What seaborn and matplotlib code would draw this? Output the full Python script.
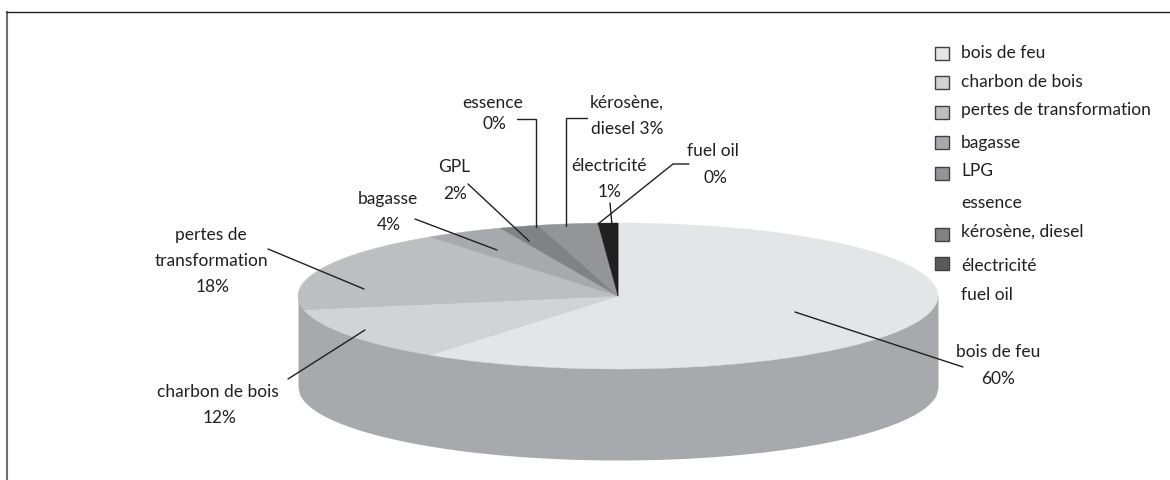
import matplotlib
matplotlib.use("Agg")
import matplotlib.pyplot as plt
from matplotlib.patches import Rectangle
import numpy as np
import seaborn as sns

# Energy shares (percent), clockwise from twelve o'clock
sources = ["bois de feu", "charbon de bois", "pertes de transformation", "bagasse",
           "GPL", "essence", "kérosène, diesel", "électricité", "fuel oil"]
shares = [60, 12, 18, 4, 2, 0, 3, 1, 0]
slice_colors = ["#e4e5e7", "#d1d3d4", "#bcbec0", "#a7a9ac", "#808285",
                "#808285", "#939598", "#231f20", "#000000"]

legend_names = ["bois de feu", "charbon de bois", "pertes de transformation", "bagasse",
                "LPG", "essence", "kérosène, diesel", "électricité", "fuel oil"]
legend_colors = ["#e4e5e7", "#d1d3d4", "#bcbec0", "#a7a9ac", "#939598",
                 None, "#808285", "#58595b", None]
legend_rows = [53, 82, 112, 142, 173, 203, 234, 263, 295]
legend_text_rows = [53, 82, 110, 143, 171, 203, 232, 266, 295]

WALL = "#a7a9ac"
INK = "#231f20"

sns.set_theme(style="white")
plt.rcParams["font.family"] = ["Lato", "DejaVu Sans"]

W, H = 1170, 480
fig = plt.figure(figsize=(W / 100, H / 100), dpi=100, facecolor="white")

# Pie axes: the unit circle is squashed into the disc's ellipse
cx, cy, rx, ry, depth = 618, 296, 320, 73, 91
pie_ax = fig.add_axes([0, 0, 1, 1])
pie_ax.axis("off")
arc_x = np.linspace(-1, 1, 400)
lower_arc = -np.sqrt(1 - arc_x ** 2)
pie_ax.fill_between(arc_x, lower_arc - depth / ry, 0, color=WALL, lw=0)
wedges, _ = pie_ax.pie(shares, startangle=90, counterclock=False, colors=slice_colors, radius=1)
for wedge in wedges:
    wedge.set_edgecolor(wedge.get_facecolor())
    wedge.set_linewidth(0.3)
pie_ax.set_aspect("auto")
pie_ax.set_xlim(-cx / rx, (W - cx) / rx)
pie_ax.set_ylim((cy - H) / ry, cy / ry)

# Overlay in pixel units for frame, leaders, labels and legend
ov = fig.add_axes([0, 0, 1, 1], facecolor="none")
ov.set_xlim(0, W)
ov.set_ylim(H, 0)
ov.axis("off")

ov.plot([7, 7], [11, 480], color="#6d6e71", lw=1.5, solid_capstyle="butt")
ov.plot([6, 1170], [11.5, 11.5], color="#231f20", lw=1.0, solid_capstyle="butt")

leaders = [
    ([795, 963], [312, 367]),
    ([365, 288], [330, 379]),
    ([268, 364], [249, 289]),
    ([415, 497], [219, 250]),
    ([468, 529], [184, 241]),
    ([517, 536, 536], [119, 119, 227]),
    ([587, 566, 566], [118, 118, 226]),
    ([610, 612], [203, 225]),
    ([689, 673, 598], [164, 164, 224]),
]
for xs, ys in leaders:
    ov.plot(xs, ys, color=INK, lw=1.0, solid_joinstyle="miter")

labels = [
    ("bois de feu", 998, 352), ("60%", 998, 379),
    ("charbon de bois", 218, 392), ("12%", 220, 418),
    ("pertes de", 211, 235), ("transformation", 211, 261), ("18%", 213, 287),
    ("bagasse", 388, 199), ("4%", 389, 225),
    ("GPL", 454, 167), ("2%", 455, 194),
    ("essence", 493, 103), ("0%", 494, 124),
    ("kérosène,", 627, 103), ("diesel 3%", 627, 129),
    ("électricité", 609, 166), ("1%", 610, 192),
    ("fuel oil", 713, 151), ("0%", 715, 178),
]
for text, x, y in labels:
    ov.text(x, y, text, ha="center", va="center", fontsize=12.5, color=INK)

for name, color, box_y, text_y in zip(legend_names, legend_colors, legend_rows, legend_text_rows):
    if color is not None:
        ov.add_patch(Rectangle((934.5, box_y - 6.5), 14, 13, facecolor=color,
                               edgecolor="#414042", lw=1.0))
    ov.text(961, text_y, name, ha="left", va="center", fontsize=12.5, color=INK)

fig.savefig("out.png", dpi=100, facecolor="white")
